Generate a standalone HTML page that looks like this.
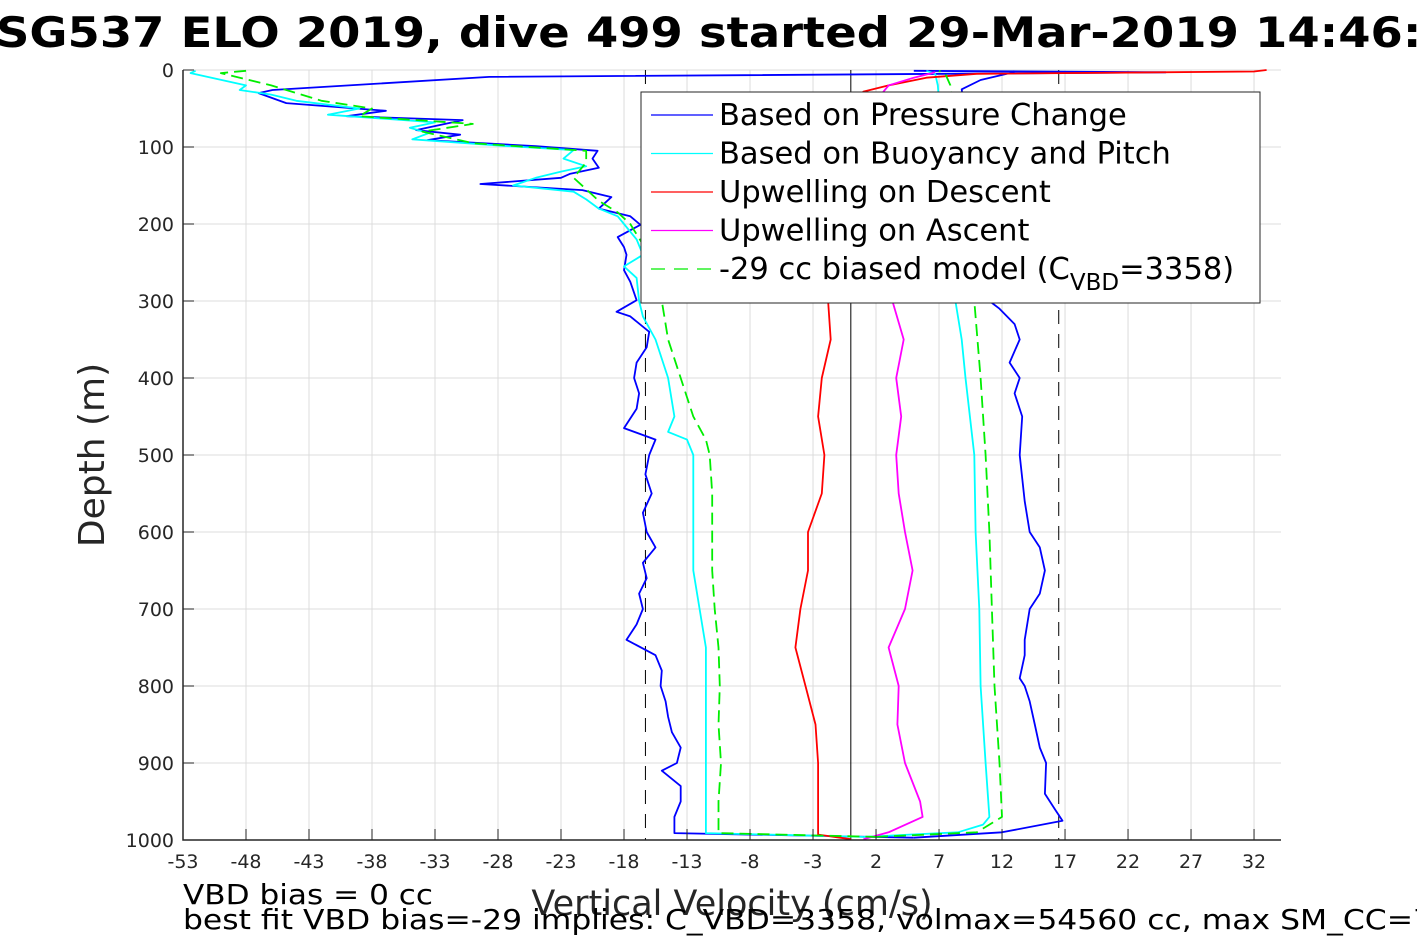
<!DOCTYPE html>
<html><head><meta charset="utf-8"><style>
html,body{margin:0;padding:0;background:#fff;overflow:hidden}
svg{display:block}
text{font-family:"DejaVu Sans","Liberation Sans",sans-serif}
</style></head><body>
<svg id="chart" width="1417" height="945" viewBox="0 0 1417 945">
<g id="grid"></g>
<g id="refs"></g>
<g id="series"></g>
<g id="axes"></g>
<text x="-4" y="47" font-size="42" font-weight="bold" textLength="1490" lengthAdjust="spacingAndGlyphs">SG537 ELO 2019, dive 499 started 29-Mar-2019 14:46:04</text>
<text transform="translate(104,455) rotate(-90)" text-anchor="middle" font-size="36" fill="#262626">Depth (m)</text>
<text x="732" y="915" text-anchor="middle" font-size="35" fill="#262626">Vertical Velocity (cm/s)</text>
<text x="183" y="904" font-size="28" textLength="250" lengthAdjust="spacingAndGlyphs">VBD bias = 0 cc</text>
<text x="183" y="929" font-size="28" textLength="1250" lengthAdjust="spacingAndGlyphs">best fit VBD bias=-29 implies: C_VBD=3358, volmax=54560 cc, max SM_CC=7</text>
<g id="legend">
<rect x="641" y="92" width="619" height="211" fill="#fff" stroke="#262626" stroke-width="1"/>
</g>
</svg>
<script>
const xTicks=[-53,-48,-43,-38,-33,-28,-23,-18,-13,-8,-3,2,7,12,17,22,27,32];
const yTicks=[0,100,200,300,400,500,600,700,800,900,1000];
const refLines=[-16.3,16.5];
const blueDescent=[[1,5],[3,25],[9,-28.7],[26,-45.9],[30,-47],[43,-44.8],[53,-36.9],[60,-40],[65,-30.8],[78,-34.5],[84,-31],[91,-33.6],[99,-25],[105,-20.1],[115,-20.5],[127,-20],[135,-22.3],[140,-23],[148,-29.4],[156,-21.3],[165,-19],[180,-20],[190,-17.5],[201,-16.7],[217,-18.5],[230,-18],[240,-17.8],[260,-18],[275,-17.5],[299,-17],[314,-18.6],[320,-17.5],[340,-16],[360,-16.2],[380,-17],[400,-17.2],[420,-16.8],[440,-17],[465,-18],[480,-15.5],[500,-16],[525,-16.3],[550,-15.8],[575,-16.5],[600,-16.2],[620,-15.5],[640,-16.5],[660,-16.2],[680,-16.8],[700,-16.5],[720,-17],[740,-17.8],[760,-15.5],[780,-15],[800,-15.1],[820,-14.7],[840,-14.5],[860,-14.2],[880,-13.5],[900,-13.8],[910,-15],[930,-13.5],[950,-13.5],[970,-14],[991,-14],[997,5]];
const blueAscent=[[997,5],[990,12],[975,16.8],[960,16.2],[940,15.4],[900,15.5],[880,15],[850,14.6],[820,14.2],[800,13.8],[790,13.4],[760,13.8],[740,13.8],[720,14],[700,14.2],[680,15],[650,15.4],[620,15],[600,14.2],[560,13.8],[500,13.4],[450,13.6],[420,13],[400,13.4],[380,12.6],[350,13.4],[330,13],[310,11.8],[300,11],[250,10],[150,9.5],[50,9],[25,8.8],[13,10.3],[3,12.9],[1,13]];
const cyanDescent=[[1,-52],[4,-52.4],[20,-48],[26,-48.5],[32,-46],[40,-44],[50,-39],[58,-41.5],[68,-33],[75,-35],[82,-33.5],[90,-34.8],[98,-28],[104,-22],[115,-22.8],[125,-21],[132,-23],[140,-25],[150,-26.8],[158,-22],[168,-21],[180,-20],[190,-18.5],[200,-18],[220,-17],[240,-16.5],[255,-18],[270,-17],[300,-16.8],[320,-16.5],[350,-15.5],[400,-14.5],[450,-14],[470,-14.5],[480,-13],[500,-12.5],[550,-12.5],[600,-12.5],[650,-12.5],[700,-12],[750,-11.5],[760,-11.5],[800,-11.5],[850,-11.5],[900,-11.5],[950,-11.5],[991,-11.5],[996,1]];
const cyanAscent=[[996,1],[990,8.5],[980,10.5],[970,11],[900,10.7],[800,10.3],[700,10.2],[600,9.9],[500,9.8],[400,9.1],[350,8.8],[300,8.3],[200,7.8],[100,7.3],[20,6.9],[5,6.7],[1,6]];
const greenDescent=[[1,-48],[4,-50],[20,-46],[30,-44],[40,-42],[50,-38],[60,-39],[70,-30],[80,-34],[95,-30],[105,-21],[120,-21],[140,-22],[155,-21],[170,-20],[185,-18.5],[200,-17.5],[240,-16],[270,-16],[300,-15],[350,-14.5],[400,-13.5],[450,-12.5],[480,-11.5],[500,-11.2],[550,-11],[600,-11],[650,-11],[700,-10.8],[750,-10.5],[800,-10.4],[850,-10.5],[900,-10.3],[950,-10.5],[991,-10.5],[996,2]];
const greenAscent=[[996,2],[990,10],[970,12],[900,11.8],[800,11.4],[700,11.2],[600,11],[500,10.7],[400,10.3],[300,9.8],[200,9.2],[100,8.5],[20,7.9],[5,7.5],[1,7]];
const redDescent=[[0,33],[2,32],[5,10],[10,6],[20,3],[28,1],[60,-1],[150,-1.5],[300,-1.8],[350,-1.6],[400,-2.3],[450,-2.6],[500,-2.1],[550,-2.3],[600,-3.4],[650,-3.4],[700,-4],[750,-4.4],[800,-3.6],[850,-2.8],[900,-2.6],[950,-2.6],[993,-2.6],[999,0]];
const magentaAscent=[[999,1],[990,3],[970,5.7],[950,5.5],[900,4.3],[850,3.7],[800,3.8],[750,3],[700,4.3],[650,4.9],[600,4.3],[550,3.8],[500,3.6],[450,4],[400,3.6],[350,4.2],[300,3.3],[200,3],[30,2.5],[20,3],[10,5],[3,6.7]];
const legendLabels=["Based on Pressure Change","Based on Buoyancy and Pitch","Upwelling on Descent","Upwelling on Ascent","-29 cc biased model (C"];

const NS="http://www.w3.org/2000/svg";
const L=183,R=1281,T=70,B=840,XMIN=-53,XMAX=34.14;
const xs=v=>L+(v-XMIN)/(XMAX-XMIN)*(R-L);
const ys=d=>T+d/1000*(B-T);
function mk(tag,attrs,parent){const e=document.createElementNS(NS,tag);for(const k in attrs)e.setAttribute(k,attrs[k]);parent.appendChild(e);return e;}
const grid=document.getElementById('grid'),axes=document.getElementById('axes'),refs=document.getElementById('refs'),series=document.getElementById('series');
xTicks.forEach(t=>{
 const g=mk('line',{x1:xs(t),x2:xs(t),y1:T,y2:B,stroke:'#dcdcdc','stroke-width':1},grid);
 
 
 const tk=mk('line',{x1:xs(t),x2:xs(t),y1:B,y2:B-11,stroke:'#262626','stroke-width':1},axes);
 
 
 const tx=mk('text',{x:xs(t),y:B+28,'text-anchor':'middle','font-size':19,fill:'#262626'},axes);
 tx.textContent=t;
 
 
});
yTicks.forEach(t=>{
 const g=mk('line',{x1:L,x2:R,y1:ys(t),y2:ys(t),stroke:'#dcdcdc','stroke-width':1},grid);
 
 
 const tk=mk('line',{x1:L,x2:L+11,y1:ys(t),y2:ys(t),stroke:'#262626','stroke-width':1},axes);
 
 
 const tx=mk('text',{x:L-9,y:ys(t)+7,'text-anchor':'end','font-size':19,fill:'#262626'},axes);
 tx.textContent=t;
 
 
});
const ax=mk('path',{d:`M${L},${T}V${B}H${R}`,fill:'none',stroke:'#262626','stroke-width':1.5},axes);


const zl=mk('line',{x1:xs(0),x2:xs(0),y1:T,y2:B,stroke:'#000','stroke-width':1},refs);


refLines.forEach(v=>{
 const l=mk('line',{x1:xs(v),x2:xs(v),y1:T,y2:B,stroke:'#000','stroke-width':1,'stroke-dasharray':'14,10'},refs);
 
 
});
function poly(data,color,name,dash){
 const p=mk('polyline',{points:data.map(p=>xs(p[1]).toFixed(1)+','+ys(p[0]).toFixed(1)).join(' '),fill:'none',stroke:color,'stroke-width':1.8,'stroke-linejoin':'round'},series);
 if(dash)p.setAttribute('stroke-dasharray',dash);
 
 
}
poly(blueDescent,'#0000ff','pressure-descent-line');
poly(blueAscent,'#0000ff','pressure-ascent-line');
poly(cyanDescent,'#00ffff','buoyancy-descent-line');
poly(cyanAscent,'#00ffff','buoyancy-ascent-line');
poly(redDescent,'#ff0000','upwelling-descent-line');
poly(magentaAscent,'#ff00ff','upwelling-ascent-line');
poly(greenDescent,'#00ee00','model-descent-line','12,6');
poly(greenAscent,'#00ee00','model-ascent-line','12,6');
const leg=document.getElementById('legend');
const cols=['#0000ff','#00ffff','#ff0000','#ff00ff','#00ee00'];
legendLabels.forEach((lab,i)=>{
 const y=115+i*38.5;
 const ln=mk('line',{x1:651,x2:713,y1:y,y2:y,stroke:cols[i],'stroke-width':1.3},leg);
 if(i==4){ln.setAttribute('stroke-dasharray','14,9');}
 
 
 const t=mk('text',{x:719,y:y+10,'font-size':30.5,fill:'#000'},leg);
 t.textContent=lab;
 if(i==4){
  const s1=mk('tspan',{dy:11,'font-size':23},t);s1.textContent='VBD';
  const s2=mk('tspan',{dy:-11},t);s2.textContent='=3358)';
 }
 
 
});
</script>
</body></html>
